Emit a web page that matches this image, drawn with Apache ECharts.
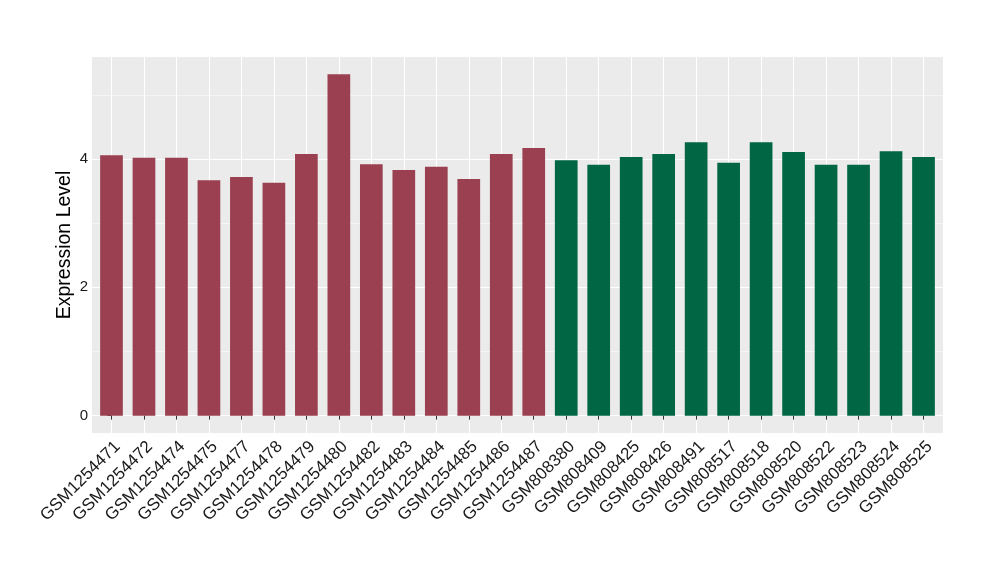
<!DOCTYPE html>
<html><head><meta charset="utf-8">
<script src="https://cdn.jsdelivr.net/npm/echarts@6/dist/echarts.min.js"></script>
<style>html,body{margin:0;padding:0;background:#fff}#c{width:1000px;height:580px}</style>
</head><body><div id="c"></div>
<script>
const samplesA = ['GSM1254471','GSM1254472','GSM1254474','GSM1254475','GSM1254477','GSM1254478','GSM1254479','GSM1254480','GSM1254482','GSM1254483','GSM1254484','GSM1254485','GSM1254486','GSM1254487'];
const valuesA = [4.06,4.02,4.02,3.67,3.72,3.63,4.08,5.32,3.92,3.83,3.88,3.69,4.08,4.17];
const samplesB = ['GSM808380','GSM808409','GSM808425','GSM808426','GSM808491','GSM808517','GSM808518','GSM808520','GSM808522','GSM808523','GSM808524','GSM808525'];
const valuesB = [3.98,3.91,4.03,4.08,4.26,3.94,4.26,4.11,3.91,3.91,4.12,4.03];
const yMajorTicks = [0,2,4];
const yMinorTicks = [1,3,5];
const yMin = -0.27, yMax = 5.59;

const categories = samplesA.concat(samplesB);
const catIdx = categories.map((_, i) => i);
const dataA = valuesA.map((v, i) => [i, v]);
const dataB = valuesB.map((v, i) => [i + samplesA.length, v]);

const font = 'Liberation Sans, Arial, sans-serif';
const chart = echarts.init(document.getElementById('c'));
chart.setOption({
  backgroundColor: '#fff',
  animation: false,
  grid: {left: 92, right: 57, top: 57, bottom: 147, show: true, backgroundColor: '#EBEBEB', borderWidth: 0},
  xAxis: [{
    type: 'value', min: -0.6, max: categories.length - 0.4,
    axisLine: {show: false},
    axisTick: {show: true, length: 4, customValues: catIdx, lineStyle: {color: '#333', width: 1}},
    axisLabel: {rotate: 45, fontSize: 17, color: '#1a1a1a', fontFamily: font, margin: 5,
      verticalAlign: 'top', customValues: catIdx, formatter: v => categories[Math.round(v)]},
    splitLine: {show: true, lineStyle: {color: '#fff', width: 1.1}}
  }],
  yAxis: [{
    type: 'value', min: yMin, max: yMax,
    name: 'Expression Level', nameLocation: 'middle', nameGap: 17, nameMoveOverlap: false,
    nameTextStyle: {fontSize: 19.5, color: '#000', fontFamily: font},
    axisLine: {show: false},
    axisTick: {show: true, length: 4, customValues: yMajorTicks, lineStyle: {color: '#333'}},
    axisLabel: {fontSize: 15, color: '#1a1a1a', fontFamily: font, margin: 4, customValues: yMajorTicks},
    splitLine: {show: true, lineStyle: {color: '#fff', width: 1.1}}
  }, {
    type: 'value', min: yMin, max: yMax, position: 'left',
    axisLine: {show: false}, axisLabel: {show: false},
    axisTick: {show: false, customValues: yMinorTicks},
    splitLine: {show: true, lineStyle: {color: '#fff', width: 0.5}}
  }],
  series: [{
    type: 'bar', data: dataA, barWidth: 22.7, barGap: '-100%', itemStyle: {color: '#9A4050'}, z: 3
  }, {
    type: 'bar', data: dataB, barWidth: 22.7, barGap: '-100%', itemStyle: {color: '#006644'}, z: 3
  }]
});
</script></body></html>
